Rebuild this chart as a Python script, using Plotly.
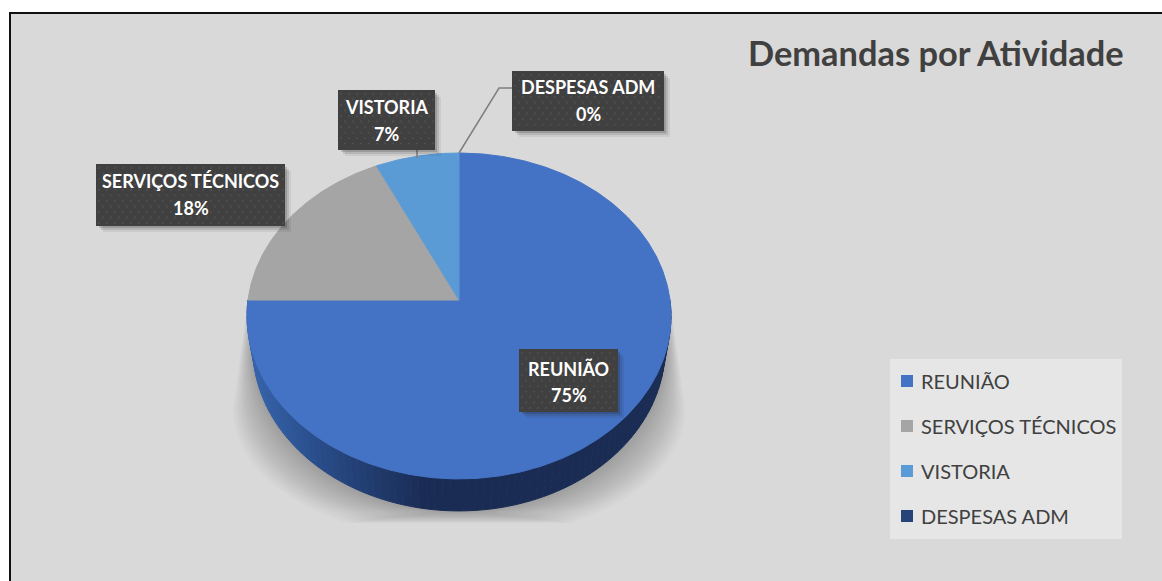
import numpy as np
import plotly.graph_objects as go

categories = ["REUNIÃO", "SERVIÇOS TÉCNICOS", "VISTORIA", "DESPESAS ADM"]
values = [75, 18, 7, 0]
colors = ["#4472C4", "#A5A5A5", "#5B9BD5", "#264478"]
title_text = "Demandas por Atividade"

FONT = "Lato, Carlito, Calibri, sans-serif"
# geometry of the tilted pie, in page pixels (axes run 1:1 with the window)
CX, CY = 459, 300
A, B, K = 211, 161.4, 0.098
DEPTH = 32
BASE_SCALE = 0.972


def rim(theta_deg):
    t = np.radians(theta_deg)
    u, v = np.sin(t), np.cos(t)
    d = 1 + K * v
    return CX + A * u / d, CY - B * v / d


def rect(x0, y0, x1, y1):
    return [x0, x1, x1, x0, x0], [y0, y0, y1, y1, y0]


fig = go.Figure()


def poly(x, y, fill, name=None, line=None):
    fig.add_trace(go.Scatter(
        x=list(x), y=list(y), mode="lines", fill="toself", fillcolor=fill,
        line=dict(width=1 if line else 0, color=line or fill),
        hoverinfo="text" if name else "skip", text=name, showlegend=False))


# soft shadow below the pie
def outer_hw(y):
    ell = 226 * np.sqrt(np.clip(1 - ((y - 410) / 130) ** 2, 0, 1))
    return np.where(y < 407, 212 + 14 * (y - 305) / 102, ell)


def inner_hw(y):
    return 206 * np.sqrt(np.clip(1 - ((y - 348) / 163) ** 2, 0, 1))


n_sh = 18
for i in range(n_sh):
    s = 1 - i / (n_sh - 1)
    ymax = 511 + 12 * s
    ys = np.linspace(305, ymax, 70)
    hw = inner_hw(ys) + s * (outer_hw(ys) - inner_hw(ys))
    poly(np.r_[CX - hw, (CX + hw)[::-1]], np.r_[ys, ys[::-1]], "rgba(110,110,110,0.033)")

# side wall with its horizontal light falloff
edges = np.linspace(90, 270, 91)
left, mid, dark = np.array([0x36, 0x64, 0xAC]), np.array([0x26, 0x47, 0x80]), np.array([0x1A, 0x2C, 0x54])
for a0, a1 in zip(edges[:-1], edges[1:]):
    t = np.linspace(a0, a1, 5)
    X, Y = rim(t)
    xm = X.mean()
    if xm < 336:
        c = left + (mid - left) * max(0, (xm - 250)) / 86
    elif xm < 425:
        c = mid + (dark - mid) * (xm - 336) / 89
    else:
        c = dark
    col = "rgb(%d,%d,%d)" % tuple(c)
    Xb = CX + (X - CX) * BASE_SCALE
    poly(np.r_[X, Xb[::-1]], np.r_[Y, Y[::-1] + DEPTH], col, line=col)

# top face: slices from the values, clockwise from 12 o'clock
total = sum(values)
start = 0.0
for cat, val, col in zip(categories, values, colors):
    sweep = 360 * val / total
    t = np.linspace(start, start + sweep, max(2, int(sweep * 2)))
    X, Y = rim(t)
    poly(np.r_[CX, X, CX], np.r_[CY, Y, CY], col, name=f"{cat}<br>{val}%", line=col if val else None)
    start += sweep

# leader lines
lead_x = [[rim(360)[0], 499, 512], [417, 417]]
lead_y = [[rim(360)[1], 88, 88], [150, 158]]
for lx, ly in zip(lead_x, lead_y):
    fig.add_trace(go.Scatter(x=lx, y=ly, mode="lines", line=dict(color="#7F7F7F", width=1.5),
                             hoverinfo="skip", showlegend=False))

# data label boxes and the centre heights of their two text lines
boxes = {
    "REUNIÃO": (519, 349, 618, 412),
    "SERVIÇOS TÉCNICOS": (96, 164, 285, 226),
    "VISTORIA": (338, 90, 435, 150),
    "DESPESAS ADM": (512, 71, 664, 131),
}
line_y = {
    "REUNIÃO": (369, 395),
    "SERVIÇOS TÉCNICOS": (181, 208),
    "VISTORIA": (106.5, 133.5),
    "DESPESAS ADM": (87, 114),
}
annotations = []
for cat, val in zip(categories, values):
    x0, y0, x1, y1 = boxes[cat]
    for off, alpha in ((7, 0.07), (5, 0.12), (3, 0.18)):
        rx, ry = rect(x0 + off, y0 + off, x1 + off - 1, y1 + off - 1)
        poly(rx, ry, f"rgba(30,30,30,{alpha})")
    rx, ry = rect(x0, y0, x1, y1)
    poly(rx, ry, "#404040")
    gx, gy = [], []
    for j, yy in enumerate(np.arange(y0 + 4, y1 - 1, 5.5)):
        for xx in np.arange(x0 + 3 + (j % 2) * 4, x1 - 1, 8):
            gx.append(xx)
            gy.append(yy)
    fig.add_trace(go.Scatter(x=gx, y=gy, mode="markers",
                             marker=dict(size=2, color="#515151", line=dict(width=0)),
                             hoverinfo="skip", showlegend=False))
    for txt, yy in zip((cat, f"{val}%"), line_y[cat]):
        annotations.append(dict(
            x=(x0 + x1) / 2, y=yy, xref="x", yref="y", showarrow=False,
            text=f"<b>{txt}</b>", align="center",
            font=dict(family=FONT, size=18, color="white")))

# title
annotations.append(dict(x=1126, y=52, xref="x", yref="y", xanchor="right", showarrow=False,
                        text=f"<b>{title_text}</b>",
                        font=dict(family=FONT, size=34.4, color="#404040")))

# legend panel
shapes = [
    dict(type="rect", x0=10, y0=13, x1=1163, y1=582, layer="below",
         fillcolor="#D9D9D9", line=dict(color="#111111", width=2)),
    dict(type="rect", x0=890, y0=359, x1=1122, y1=539, layer="below",
         fillcolor="#E6E6E6", line=dict(width=0)),
]
leg_y = [381, 426, 471, 516]
for cat, col, yy in zip(categories, colors, leg_y):
    shapes.append(dict(type="rect", x0=901, x1=913, y0=yy - 6, y1=yy + 6, layer="below",
                       fillcolor=col, line=dict(width=0)))
    annotations.append(dict(x=918.5, y=yy, xref="x", yref="y", xanchor="left", showarrow=False,
                            text=cat, font=dict(family=FONT, size=20, color="#404040")))

fig.update_layout(
    width=1162, height=581, margin=dict(l=0, r=0, t=0, b=0),
    paper_bgcolor="white", plot_bgcolor="rgba(0,0,0,0)",
    xaxis=dict(range=[0, 1162], visible=False, fixedrange=True),
    yaxis=dict(range=[581, 0], visible=False, fixedrange=True),
    shapes=shapes, annotations=annotations, showlegend=False, hovermode="closest")
fig.write_html("out.html", config=dict(displayModeBar=False),
               post_script="document.body.style.margin='0';document.body.style.overflow='hidden';")
